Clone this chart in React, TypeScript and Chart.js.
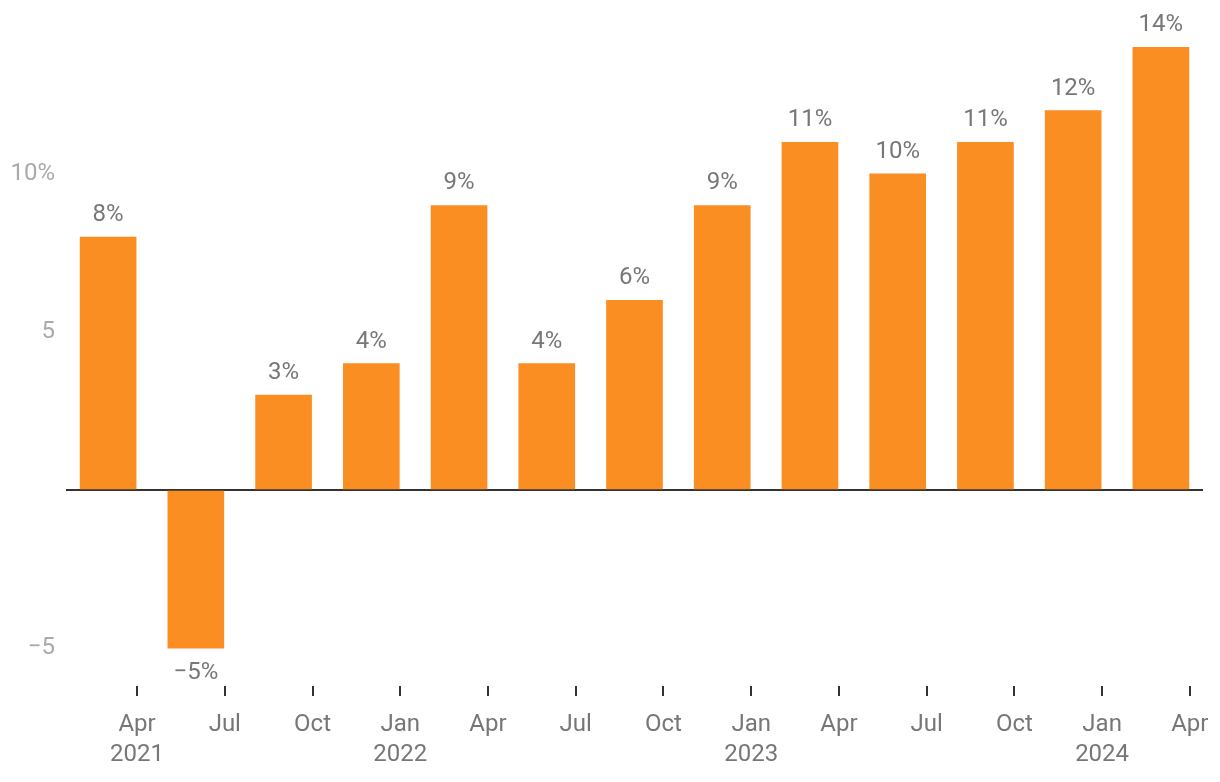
import React, { useEffect, useRef } from "react";
import { Chart, registerables } from "chart.js";

Chart.register(...registerables);

const QUARTER_VALUES = [8, -5, 3, 4, 9, 4, 6, 9, 11, 10, 11, 12, 14];
const X_TICK_LABELS: string[][] = [
  ["Apr", "2021"], ["Jul"], ["Oct"],
  ["Jan", "2022"], ["Apr"], ["Jul"], ["Oct"],
  ["Jan", "2023"], ["Apr"], ["Jul"], ["Oct"],
  ["Jan", "2024"], ["Apr"],
];
const Y_TICKS = [-5, 0, 5, 10];
const Y_TICK_LABELS = ["\u22125", "", "5", "10%"];

const FONT = "Roboto";
const BAR_COLOR = "#FB8E23";

const fmtLabel = (v: number) => (v < 0 ? "\u2212" + Math.abs(v) + "%" : v + "%");

const valueLabels = {
  id: "valueLabels",
  afterDatasetsDraw(chart: any) {
    const ctx = chart.ctx;
    const meta = chart.getDatasetMeta(0);
    ctx.save();
    ctx.font = `24px ${FONT}`;
    ctx.fillStyle = "#777777";
    ctx.textAlign = "center";
    ctx.textBaseline = "middle";
    meta.data.forEach((el: any, i: number) => {
      const v = QUARTER_VALUES[i];
      const y = v >= 0 ? el.y - 22 : el.y + 25;
      ctx.fillText(fmtLabel(v), el.x, y);
    });
    ctx.restore();
  },
};

export default function App() {
  const ref = useRef<HTMLCanvasElement>(null);
  useEffect(() => {
    if (!ref.current) return;
    const chart = new Chart(ref.current, {
      type: "bar",
      data: {
        datasets: [
          {
            data: QUARTER_VALUES.map((v, i) => ({ x: i, y: v })),
            backgroundColor: BAR_COLOR,
            barThickness: 56,
          },
        ],
      },
      options: {
        responsive: false,
        animation: false,
        layout: { padding: { left: 0, right: 17, top: 0, bottom: 0 } },
        plugins: { legend: { display: false }, tooltip: { enabled: false } },
        scales: {
          x: {
            type: "linear",
            offset: false,
            min: -0.48,
            max: 12.48,
            afterBuildTicks: (s: any) => {
              s.ticks = X_TICK_LABELS.map((_, i) => ({ value: i + 0.33 }));
            },
            afterFit: (s: any) => {
              s.height = 96;
              s.paddingLeft = 0;
              s.paddingRight = 0;
            },
            border: { display: false },
            grid: {
              offset: false,
              drawOnChartArea: false,
              drawTicks: true,
              tickLength: 10,
              color: "#333333",
              lineWidth: 2,
            },
            ticks: {
              autoSkip: false,
              maxRotation: 0,
              minRotation: 0,
              padding: 14,
              color: "#777777",
              font: { family: FONT, size: 24, lineHeight: 1.25 },
              callback: (_v: any, idx: number) => X_TICK_LABELS[idx],
            },
          },
          y: {
            min: -6.2,
            max: 15.5,
            afterBuildTicks: (s: any) => {
              s.ticks = Y_TICKS.map((v) => ({ value: v }));
            },
            afterFit: (s: any) => {
              s.width = 66;
              s.paddingTop = 0;
              s.paddingBottom = 0;
            },
            border: { display: false },
            grid: {
              drawTicks: false,
              lineWidth: 2,
              color: (c: any) => (c.tick && c.tick.value === 0 ? "#333333" : "rgba(0,0,0,0)"),
            },
            ticks: {
              padding: 11,
              color: "#aaaaaa",
              font: { family: FONT, size: 24 },
              callback: (_v: any, idx: number) => Y_TICK_LABELS[idx],
            },
          },
        },
      },
      plugins: [valueLabels],
    } as any);
    return () => chart.destroy();
  }, []);
  return (
    <div style={{ position: "fixed", left: 0, top: 0, width: 1220, height: 782, background: "#fff" }}>
      <canvas ref={ref} width={1220} height={782} />
    </div>
  );
}
